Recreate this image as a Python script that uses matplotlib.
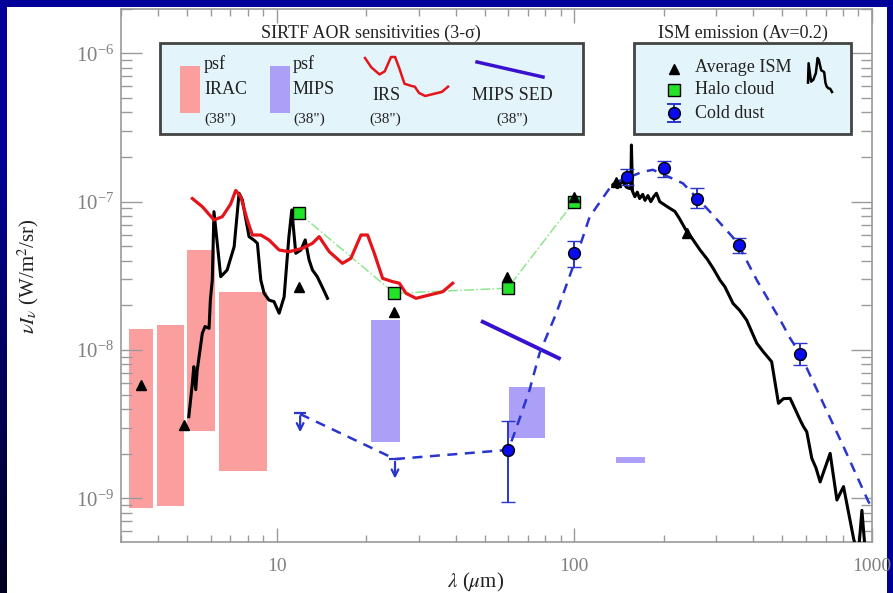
import numpy as np
import matplotlib.pyplot as plt
from matplotlib.patches import Rectangle
from matplotlib.ticker import FuncFormatter

plt.rcParams['font.family'] = ['Liberation Serif', 'DejaVu Serif']
plt.rcParams['mathtext.fontset'] = 'stix'

# ---------------- data ----------------
# IRAC sensitivity boxes (psf, 38")
irac_left = [3.19, 3.96, 5.00, 6.40]
irac_right = [3.84, 4.89, 6.21, 9.29]
irac_top = [1.39e-8, 1.48e-8, 4.72e-8, 2.46e-8]
irac_bottom = [8.6e-10, 8.9e-10, 2.85e-9, 1.53e-9]

# MIPS sensitivity boxes
mips_left = [20.8, 60.6, 138.0]
mips_right = [25.9, 79.6, 173.0]
mips_top = [1.59e-8, 5.66e-9, 1.91e-9]
mips_bottom = [2.40e-9, 2.54e-9, 1.74e-9]

# MIPS SED
mips_sed_lam = [49.3, 88.9]
mips_sed_val = [1.55e-8, 8.8e-9]

# IRS sensitivity curve
irs_lam = [5.21, 5.63, 6.16, 6.57, 7.0, 7.29, 7.58, 7.97, 8.29, 8.85, 9.43, 10.2, 11.02,
           12.21, 13.2, 13.9, 15.03, 16.65, 17.77, 19.21, 20.22, 21.3, 22.72, 24.54,
           25.85, 27.23, 29.42, 32.62, 36.16, 39.07]
irs_val = [1.05e-7, 9.25e-8, 7.53e-8, 7.92e-8, 9.6e-8, 1.19e-7, 1.08e-7, 7.53e-8, 5.96e-8,
           5.96e-8, 5.52e-8, 4.72e-8, 4.60e-8, 4.85e-8, 5.24e-8, 5.81e-8, 4.60e-8, 3.84e-8,
           4.15e-8, 5.96e-8, 5.96e-8, 4.49e-8, 3.04e-8, 2.89e-8, 2.82e-8, 2.41e-8, 2.23e-8,
           2.35e-8, 2.47e-8, 2.82e-8]

# Average ISM spectrum, mid-IR part
ism_mir_lam = [5.07, 5.21, 5.27, 5.35, 5.41, 5.63, 5.75, 5.93, 5.99, 6.08, 6.16, 6.49, 6.82,
               7.20, 7.48, 7.67, 8.08, 8.40, 8.62, 8.85, 9.08, 9.43, 9.80, 10.2, 10.6, 11.0,
               11.25, 11.6, 12.07, 12.48, 12.86, 13.2, 13.7, 14.3, 14.83]
ism_mir_val = [3.55e-9, 5.96e-9, 7.72e-9, 5.4e-9, 7.3e-9, 1.30e-8, 1.44e-8, 1.40e-8, 2.17e-8,
               2.96e-8, 8.56e-8, 3.12e-8, 3.46e-8, 4.97e-8, 1.14e-7, 1.03e-7, 5.81e-8, 5.5e-8,
               5.24e-8, 2.96e-8, 2.41e-8, 2.17e-8, 2.12e-8, 1.77e-8, 2.28e-8, 5.81e-8, 8.8e-8,
               4.49e-8, 4.72e-8, 5.52e-8, 4.05e-8, 3.46e-8, 3.12e-8, 2.61e-8, 2.23e-8]

# Average ISM spectrum, far-IR part
ism_fir_lam = [135, 140, 145, 150, 155, 155.8, 157, 160, 163, 166, 170, 173, 177, 181, 185,
               189, 194, 200, 210, 218, 225, 239, 250, 265, 280, 293, 309, 321, 342, 360,
               380, 411, 432, 461, 486, 505, 532, 575, 590, 605, 629, 650, 671, 725, 764,
               804, 869, 900, 927, 955]
ism_fir_val = [1.30e-7, 1.24e-7, 1.38e-7, 1.25e-7, 1.22e-7, 2.41e-7, 1.18e-7, 1.08e-7,
               1.16e-7, 1.05e-7, 1.12e-7, 1.02e-7, 1.10e-7, 1.0e-7, 1.08e-7, 1.14e-7, 1.0e-7,
               9.6e-8, 9.0e-8, 8.6e-8, 7.8e-8, 6.3e-8, 5.6e-8, 4.72e-8, 4.1e-8, 3.56e-8,
               2.96e-8, 2.67e-8, 2.06e-8, 1.85e-8, 1.59e-8, 1.11e-8, 9.74e-9, 8.34e-9,
               4.37e-9, 4.7e-9, 4.72e-9, 3.37e-9, 3.04e-9, 2.81e-9, 1.86e-9, 1.6e-9, 1.29e-9,
               2.01e-9, 9.74e-10, 1.20e-9, 5.37e-10, 4.0e-10, 8.3e-10, 4.0e-10]

# Average ISM broad-band points
avg_lam = [3.49, 4.89, 11.9, 24.9, 59.6, 100, 138.7, 238.6]
avg_val = [5.8e-9, 3.12e-9, 2.67e-8, 1.81e-8, 3.12e-8, 1.08e-7, 1.36e-7, 6.12e-8]

# Halo cloud
halo_lam = [11.9, 24.9, 59.8, 100]
halo_val = [8.35e-8, 2.41e-8, 2.61e-8, 1.0e-7]

# Cold dust
cold_lam = [60, 100, 150, 200, 258, 359, 575]
cold_val = [2.12e-9, 4.53e-8, 1.46e-7, 1.68e-7, 1.05e-7, 5.1e-8, 9.4e-9]
cold_lo = [9.5e-10, 3.61e-8, 1.30e-7, 1.47e-7, 9.0e-8, 4.53e-8, 7.92e-9]
cold_hi = [3.34e-9, 5.43e-8, 1.65e-7, 1.89e-7, 1.23e-7, 5.67e-8, 1.12e-8]

# cold dust upper limits
ul_lam = [12, 25]
ul_val = [3.74e-9, 1.84e-9]
ul_tip = [2.67e-9, 1.30e-9]

# cold dust model (dashed)
model_lam = [12, 25, 60, 63, 70.8, 76.5, 87.1, 99.1, 112.8, 135.1, 170, 184, 232, 286, 352,
             411, 493, 532, 575, 804, 975, 1000]
model_val = [3.7e-9, 1.84e-9, 2.12e-9, 2.74e-9, 5.37e-9, 9.5e-9, 1.77e-8, 3.64e-8, 7.92e-8,
             1.33e-7, 1.59e-7, 1.64e-7, 1.33e-7, 8.56e-8, 5.37e-8, 2.96e-8, 1.59e-8, 1.2e-8,
             9.4e-9, 2.23e-9, 9.5e-10, 8.8e-10]

# ---------------- colours ----------------
c_irac = '#fa9e9e'
c_mips = '#ab9ff7'
c_irs = '#e5141b'
c_sed = '#3a10d0'
c_blue = '#2a35cc'
c_green = '#22e22a'
c_gline = '#8fe68f'
c_box = '#e3f5fb'

W, H = 893, 593
fig = plt.figure(figsize=(W / 100, H / 100), dpi=100)

# dark blue frame, darker towards the lower left
bg = fig.add_axes([0, 0, 1, 1], zorder=-5)
yy, xx = np.mgrid[0:1:200j, 0:1:300j]
dark = np.clip((yy - 0.25) / 0.75, 0, 1) * np.clip(1 - xx * 1.6, 0, 1)
img = np.zeros((200, 300, 3))
img[..., 2] = 0.60 * (1 - 0.8 * dark)
bg.imshow(img, extent=[0, 1, 0, 1], aspect='auto', origin='upper')
bg.add_patch(Rectangle((7 / W, 0), 880 / W, 586 / H, facecolor='white', edgecolor='none'))
bg.set_xlim(0, 1)
bg.set_ylim(0, 1)
bg.axis('off')

ax = fig.add_axes([121 / W, 1 - 541.7 / H, 750.7 / W, 533 / H])
ax.set_xscale('log')
ax.set_yscale('log')

# sensitivity boxes
ax.bar(irac_left, np.array(irac_top) - np.array(irac_bottom), bottom=irac_bottom,
       width=np.array(irac_right) - np.array(irac_left), align='edge', color=c_irac, zorder=1)
ax.bar(mips_left, np.array(mips_top) - np.array(mips_bottom), bottom=mips_bottom,
       width=np.array(mips_right) - np.array(mips_left), align='edge', color=c_mips, zorder=1)

ax.plot(halo_lam, halo_val, color=c_gline, lw=1.1, ls='-.', zorder=2)
ax.plot(ism_mir_lam, ism_mir_val, color='black', lw=2.2, zorder=3)
ax.plot(ism_fir_lam, ism_fir_val, color='black', lw=2.2, zorder=3)
ax.plot(irs_lam, irs_val, color=c_irs, lw=2.3, zorder=4)
ax.plot(mips_sed_lam, mips_sed_val, color=c_sed, lw=2.8, zorder=4)
ax.plot(model_lam, model_val, color=c_blue, lw=1.8, ls=(0, (4, 3)), zorder=5)

# upper limits
for lx, lv, lt in zip(ul_lam, ul_val, ul_tip):
    ax.annotate('', xy=(lx, lt), xytext=(lx, lv),
                arrowprops=dict(arrowstyle='->', color=c_blue, lw=1.6, mutation_scale=12),
                zorder=6)
ax.plot(ul_lam, ul_val, ls='none', marker='_', ms=9, mew=1.6, color=c_blue, zorder=6)

# cold dust points
yerr = [np.array(cold_val) - np.array(cold_lo), np.array(cold_hi) - np.array(cold_val)]
ax.errorbar(cold_lam, cold_val, yerr=yerr, fmt='o', ms=8.5, mfc='#0a0aee', mec='black',
            mew=1.0, ecolor=c_blue, elinewidth=1.4, capsize=5, capthick=1.4, zorder=7)
ax.plot(halo_lam, halo_val, ls='none', marker='s', ms=8, mfc=c_green, mec='black', mew=1.0,
        zorder=7)
ax.plot(avg_lam, avg_val, ls='none', marker='^', ms=7, color='black', zorder=8)

ax.set_xlim(3, 1000)
ax.set_ylim(5.1e-10, 2e-6)
ax.xaxis.set_major_formatter(FuncFormatter(lambda v, p: f'{v:g}'))

for s in ax.spines.values():
    s.set_color('#9a9a9a')
    s.set_linewidth(1.2)
ax.tick_params(which='both', direction='in', top=True, right=True, color='#9a9a9a',
               labelcolor='#808080', width=1)
ax.tick_params(axis='y', which='major', length=15, pad=5, labelsize=15)
ax.tick_params(axis='y', which='minor', length=8)
ax.tick_params(axis='x', which='major', length=10, pad=12, labelsize=14)
ax.tick_params(axis='x', which='minor', length=5)


def P(x, y):
    return (x / W, 1 - y / H)


def icon(lam, val, x0, x1, y0, y1, **kw):
    lx = np.log10(lam)
    lv = np.log10(val)
    px = x0 + (lx - lx.min()) / (lx.max() - lx.min()) * (x1 - x0)
    py = y1 - (lv - lv.min()) / (lv.max() - lv.min()) * (y1 - y0)
    ax.plot(px / W, 1 - py / H, transform=fig.transFigure, clip_on=False, **kw)


txt = dict(transform=fig.transFigure, color='#222222', zorder=20)

# SIRTF legend
ax.add_patch(Rectangle(P(160, 134), 422.7 / W, 91.3 / H, transform=fig.transFigure,
                       facecolor=c_box, edgecolor='#444444', lw=2, clip_on=False, zorder=15))
fig.text(*P(371, 33), 'SIRTF AOR sensitivities (3-σ)', ha='center', va='center',
         fontsize=13, **txt)
ax.add_patch(Rectangle(P(180, 113), 20 / W, 47 / H, transform=fig.transFigure,
                       facecolor=c_irac, edgecolor='none', clip_on=False, zorder=16))
ax.add_patch(Rectangle(P(270, 113), 20 / W, 47 / H, transform=fig.transFigure,
                       facecolor=c_mips, edgecolor='none', clip_on=False, zorder=16))
for x0, name in [(204, 'IRAC'), (293, 'MIPS')]:
    fig.text(*P(x0, 64), 'psf', ha='left', va='center', fontsize=13, **txt)
    fig.text(*P(x0, 89), name, ha='left', va='center', fontsize=13, **txt)
    fig.text(*P(x0, 119), '(38")', ha='left', va='center', fontsize=11, **txt)
icon(np.array(irs_lam[15:]), np.array(irs_val[15:]), 365, 448, 57, 96,
     color=c_irs, lw=1.8, zorder=16)
fig.text(*P(372, 96), 'IRS', ha='left', va='center', fontsize=13, **txt)
fig.text(*P(369, 119), '(38")', ha='left', va='center', fontsize=11, **txt)
icon(np.array(mips_sed_lam), np.array(mips_sed_val), 477, 543, 62, 77,
     color=c_sed, lw=2.5, zorder=16)
fig.text(*P(512, 96), 'MIPS SED', ha='center', va='center', fontsize=13, **txt)
fig.text(*P(512, 119), '(38")', ha='center', va='center', fontsize=11, **txt)

# ISM legend
ax.add_patch(Rectangle(P(634, 134), 217 / W, 91.3 / H, transform=fig.transFigure,
                       facecolor=c_box, edgecolor='#444444', lw=2, clip_on=False, zorder=15))
fig.text(*P(743, 33), 'ISM emission (Av=0.2)', ha='center', va='center', fontsize=13, **txt)
ax.plot(*P(674, 69), marker='^', ms=7, color='black', transform=fig.transFigure,
        clip_on=False, zorder=16)
ax.plot(*P(674, 90), marker='s', ms=8, mfc=c_green, mec='black', mew=1.0,
        transform=fig.transFigure, clip_on=False, zorder=16)
ax.plot([674 / W, 674 / W], [1 - 104 / H, 1 - 122 / H], color=c_blue, lw=1.4,
        transform=fig.transFigure, clip_on=False, zorder=16)
ax.plot([674 / W, 674 / W], [1 - 104 / H, 1 - 122 / H], ls='none', marker='_', ms=10,
        mew=1.4, color=c_blue, transform=fig.transFigure, clip_on=False, zorder=16)
ax.plot(*P(674, 113), marker='o', ms=8.5, mfc='#0a0aee', mec='black', mew=1.0,
        transform=fig.transFigure, clip_on=False, zorder=17)
for yy_, name in [(68, 'Average ISM'), (90, 'Halo cloud'), (113, 'Cold dust')]:
    fig.text(*P(695, yy_), name, ha='left', va='center', fontsize=13, **txt)
icon(np.array(ism_mir_lam[9:24]), np.array(ism_mir_val[9:24]), 808, 832, 58, 92,
     color='black', lw=1.8, zorder=16)

fig.text(*P(28, 276), r'$\nu I_\nu$ (W/m$^2$/sr)', rotation=90, ha='center', va='center',
         fontsize=15, **txt)
fig.text(*P(476, 582), r'$\lambda$ ($\mu$m)', ha='center', va='center', fontsize=15, **txt)

fig.savefig('out.png', dpi=100)
